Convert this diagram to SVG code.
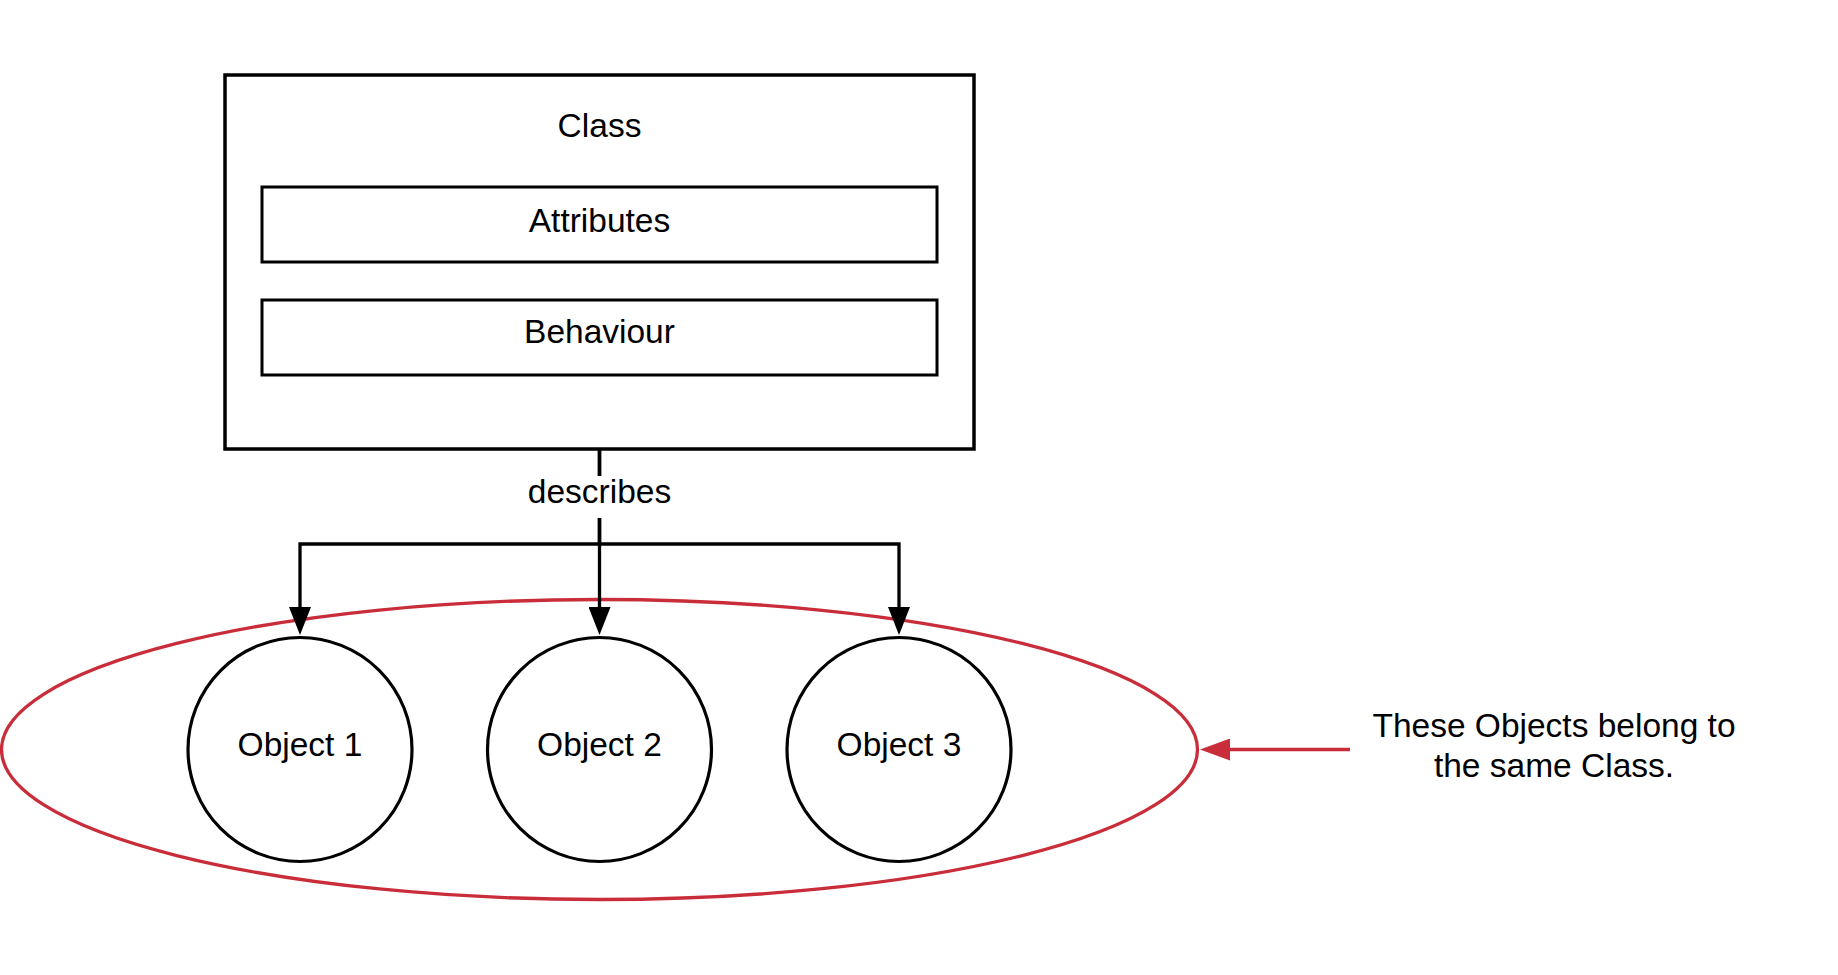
<svg xmlns="http://www.w3.org/2000/svg" width="1838" height="975" viewBox="0 0 1838 975">
<style>
  text { font-family: "Liberation Sans", Arial, sans-serif; font-size: 33.5px; fill: #000; text-anchor: middle; }
  .box { fill: #fff; stroke: #000; stroke-width: 3.5; }
  .inner { fill: #fff; stroke: #000; stroke-width: 3; }
  .obj { fill: #fff; stroke: #000; stroke-width: 3.2; }
  .conn { fill: none; stroke: #000; stroke-width: 3.3; }
  .red { fill: none; stroke: #c92d39; stroke-width: 3.3; }
</style>
<defs>
  <marker id="arrowBlack" markerUnits="userSpaceOnUse" viewBox="0 0 28 22" markerWidth="28" markerHeight="22" refX="0" refY="11" orient="auto">
    <path d="M0,0 L28,11 L0,22 Z" fill="#000"/>
  </marker>
  <marker id="arrowRed" markerUnits="userSpaceOnUse" viewBox="0 0 30 22" markerWidth="30" markerHeight="22" refX="0" refY="11" orient="auto">
    <path d="M0,0 L30,11 L0,22 Z" fill="#c92d39"/>
  </marker>
</defs>
<rect width="1838" height="975" fill="#fff"/>

<g id="group-ellipse">
  <ellipse class="red" cx="599.5" cy="749.5" rx="598" ry="150"/>
</g>

<g id="class">
  <rect class="box" x="225" y="75" width="749" height="374"/>
  <text x="599.5" y="137">Class</text>
</g>
<g id="attributes">
  <rect class="inner" x="262" y="187" width="675" height="75"/>
  <text x="599.5" y="232">Attributes</text>
</g>
<g id="behaviour">
  <rect class="inner" x="262" y="300" width="675" height="75"/>
  <text x="599.5" y="343">Behaviour</text>
</g>

<g id="object1">
  <circle class="obj" cx="300" cy="749.5" r="112"/>
  <text x="300" y="756">Object 1</text>
</g>
<g id="object2">
  <circle class="obj" cx="599.5" cy="749.5" r="112"/>
  <text x="599.5" y="756">Object 2</text>
</g>
<g id="object3">
  <circle class="obj" cx="899" cy="749.5" r="112"/>
  <text x="899" y="756">Object 3</text>
</g>

<g id="note">
  <text x="1554" y="737">These Objects belong to</text>
  <text x="1554" y="777">the same Class.</text>
</g>

<g id="connectors">
  <path class="conn" d="M599.5,449 V544 H300 V607" marker-end="url(#arrowBlack)"/>
  <path class="conn" d="M599.5,449 V607" marker-end="url(#arrowBlack)"/>
  <path class="conn" d="M599.5,449 V544 H899 V607" marker-end="url(#arrowBlack)"/>
  <rect x="525" y="476" width="149" height="42" fill="#fff"/>
  <text x="599.5" y="503">describes</text>
  <path class="red" d="M1350,749.5 H1230" marker-end="url(#arrowRed)"/>
</g>
</svg>
